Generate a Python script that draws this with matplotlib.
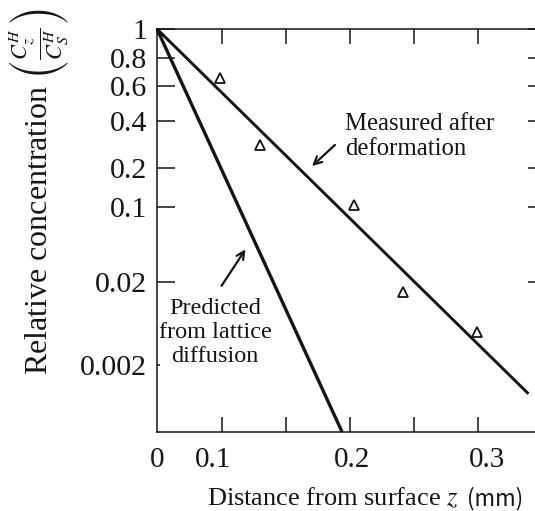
import matplotlib
matplotlib.use('Agg')
import matplotlib.pyplot as plt
import numpy as np

plt.rcParams['font.family'] = ['Liberation Serif', 'DejaVu Serif']
plt.rcParams['mathtext.fontset'] = 'stix'

# ---------------- data ----------------
# measured points (triangles), x in mm, y relative concentration
z_meas = [0.105, 0.134, 0.2015, 0.238, 0.293]
c_meas = [0.652, 0.281, 0.1035, 0.0152, 0.0050]

# straight lines (start / end)
z_measured_line = [0.0, 0.331]
c_measured_line = [1.0, 0.000895]
z_predicted_line = [0.0, 0.193]
c_predicted_line = [1.0, 0.00031]

x_ticklabels = ['0', '0.1', '0.2', '0.3']
x_ticks = [0.0, 0.1, 0.2, 0.3]
x_minor = [0.1065, 0.1525, 0.1986, 0.2459, 0.2933]
y_ticks = [0.002, 0.02, 0.1, 0.2, 0.4, 0.6, 0.8, 1.0]
y_ticklabels = ['0.002', '0.02', '0.1', '0.2', '0.4', '0.6', '0.8', '1']

# ---------------- axis scales (the original axes are not regular) ----------------
# calibration: value -> relative position on the axis
XCAL_V = np.array([-0.1, 0.0, 0.1, 0.2, 0.3, 0.4, 1.0])
XCAL_P = np.array([101, 157, 213, 352, 487, 622, 1432], dtype=float)
YCAL_V = np.log10([1e-5, 0.002, 0.02, 0.1, 0.2, 0.4, 0.6, 0.8, 1.0, 10.0])
YCAL_P = -np.array([556, 365, 282, 207, 168, 121, 86, 58, 29, -270], dtype=float)


def x_fwd(x):
    return np.interp(x, XCAL_V, XCAL_P)


def x_inv(p):
    return np.interp(p, XCAL_P, XCAL_V)


def y_fwd(v):
    v = np.clip(np.asarray(v, dtype=float), 1e-12, None)
    return np.interp(np.log10(v), YCAL_V, YCAL_P)


def y_inv(p):
    return 10 ** np.interp(p, YCAL_P, YCAL_V)


W, H = 535, 511
fig = plt.figure(figsize=(W / 100, H / 100), dpi=100)
ax = fig.add_axes([157 / W, (H - 432) / H, (546 - 157) / W, (432 - 29) / H])

ax.set_xscale('function', functions=(x_fwd, x_inv))
ax.set_yscale('function', functions=(y_fwd, y_inv))
ax.set_xlim(0, 0.344)
ax.set_ylim(0.00031, 1.0)

ink = '#151515'

ax.plot(z_predicted_line, c_predicted_line, color=ink, linewidth=2.4, solid_capstyle='butt', clip_on=False)
ax.plot(z_measured_line, c_measured_line, color=ink, linewidth=2.1, solid_capstyle='butt')
ax.plot(z_meas, c_meas, linestyle='none', marker='^', markersize=7,
        markerfacecolor='white', markeredgecolor=ink, markeredgewidth=1.3)

# ---------------- ticks ----------------
ax.set_xticks(x_ticks)
ax.set_xticklabels(x_ticklabels)
ax.set_xticks(x_minor, minor=True)
ax.tick_params(axis='x', which='major', length=0, pad=11, labelsize=21, colors=ink)
ax.tick_params(axis='x', which='minor', direction='in', length=11, width=1.1,
               top=True, bottom=True, colors=ink)

ax.set_yticks(y_ticks)
ax.set_yticklabels(y_ticklabels)
ax.yaxis.set_minor_locator(matplotlib.ticker.NullLocator())
ax.xaxis.set_minor_formatter(matplotlib.ticker.NullFormatter())
ax.tick_params(axis='y', which='major', direction='in', length=13, width=1.1,
               left=True, right=True, pad=7, labelsize=21.5, colors=ink)
# the 0.002 mark is only a dot
t = ax.yaxis.get_major_ticks()[0]
t.tick1line.set_markersize(2)
t.tick2line.set_markersize(2)

for s in ax.spines.values():
    s.set_linewidth(1.1)
    s.set_color(ink)

# ---------------- annotations ----------------
ax.annotate('', xy=(0.3933, 0.6551), xytext=(0.4627, 0.7171),
            xycoords='axes fraction', textcoords='axes fraction',
            arrowprops=dict(arrowstyle='->', color=ink, lw=1.6, mutation_scale=14))
ax.annotate('', xy=(0.2314, 0.459), xytext=(0.162, 0.357),
            xycoords='axes fraction', textcoords='axes fraction',
            arrowprops=dict(arrowstyle='->', color=ink, lw=1.6, mutation_scale=14))

ax.text(0.4833, 0.733, 'Measured after\ndeformation', transform=ax.transAxes,
        fontsize=17.8, ha='left', va='center', linespacing=1.2, color=ink)
ax.text(0.149, 0.247, 'Predicted\nfrom lattice\ndiffusion', transform=ax.transAxes,
        fontsize=17.5, ha='center', va='center', multialignment='center',
        linespacing=1.17, color=ink)

# ---------------- axis labels ----------------
fig.text(39 / W, 1 - 192 / H, r'Relative concentration $\left(\frac{C_z^H}{C_S^H}\right)$',
         rotation=90, ha='center', va='center', fontsize=23, color=ink)
fig.text(207 / W, 1 - 505 / H, 'Distance from surface $z$', ha='left', va='baseline',
         fontsize=19, color=ink)
fig.text(467 / W, 1 - 505 / H, '(mm)', ha='left', va='baseline',
         fontsize=16, color=ink, family=['Noto Sans CJK JP', 'DejaVu Sans'])

fig.savefig('out.png', dpi=100)
